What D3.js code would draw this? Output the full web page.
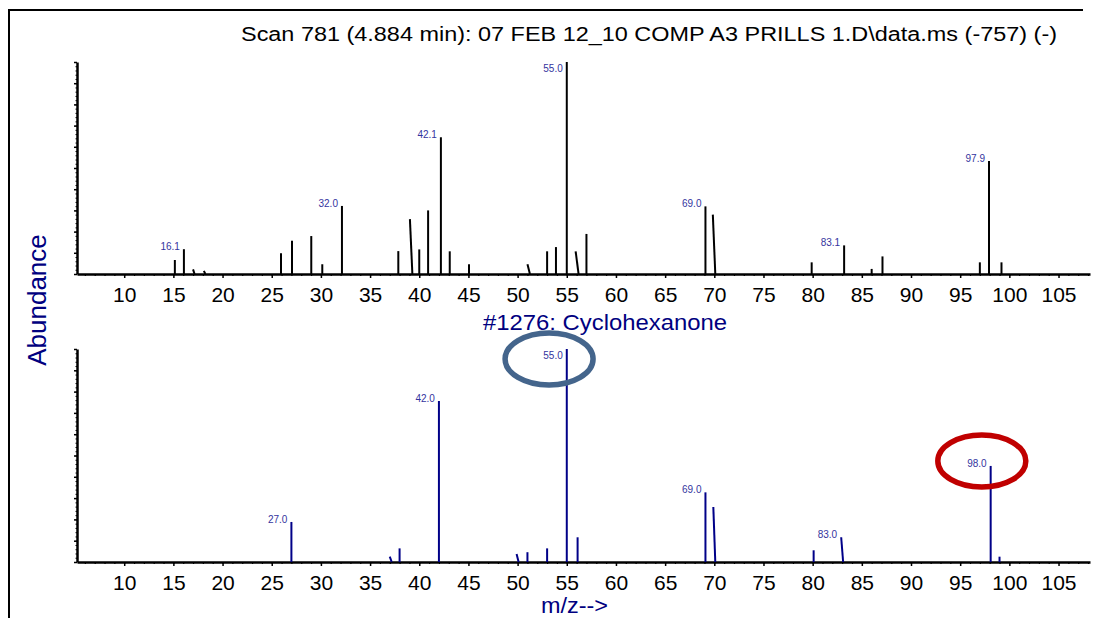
<!DOCTYPE html>
<html>
<head>
<meta charset="utf-8">
<script src="https://cdn.jsdelivr.net/npm/d3@7"></script>
<style>
  html, body { margin: 0; padding: 0; background: #fff; }
  svg { display: block; font-family: "Liberation Sans", Arial, sans-serif; }
</style>
</head>
<body>
<svg id="chart" width="1093" height="618"></svg>
<script>
// ---------- data ----------
const titleText = "Scan 781 (4.884 min): 07 FEB 12_10 COMP A3  PRILLS 1.D\\data.ms (-757) (-)";
const libraryTitle = "#1276: Cyclohexanone";
const xLabel = "m/z-->";
const yLabel = "Abundance";
const xTickValues = [10, 15, 20, 25, 30, 35, 40, 45, 50, 55, 60, 65, 70, 75, 80, 85, 90, 95, 100, 105];

// Scan spectrum (top) – m/z at peak top, m/z at base, relative abundance, label
const scanMz     = [15.15, 16.07, 17.0, 18.1, 25.94, 27.06, 29.02, 30.14, 32.14, 37.87, 39.05, 40.0, 40.9, 42.2, 43.1, 45.06, 51.0, 53.0, 53.9, 55.0, 55.9, 57.0, 69.1, 69.85, 79.9, 83.2, 86.0, 87.1, 97.0, 97.93, 99.2];
const scanBaseMz = [15.15, 16.07, 17.15, 18.25, 25.94, 27.06, 29.02, 30.14, 32.14, 37.87, 39.3, 40.0, 40.9, 42.2, 43.1, 45.06, 51.25, 53.0, 53.9, 55.0, 56.2, 57.0, 69.1, 70.1, 79.9, 83.2, 86.0, 87.1, 97.0, 97.93, 99.2];
const scanAbund  = [6.6, 11.7, 2.2, 1.5, 9.8, 15.7, 17.9, 4.6, 32.1, 10.8, 25.9, 11.6, 30.0, 64.5, 10.7, 4.6, 4.6, 10.7, 12.7, 100, 10.7, 18.9, 31.9, 28.0, 5.5, 13.5, 2.4, 8.3, 5.5, 53.3, 5.5];
const scanLabels = ["", "16.1", "", "", "", "", "", "", "32.0", "", "", "", "", "42.1", "", "", "", "", "", "55.0", "", "", "69.0", "", "", "83.1", "", "", "", "97.9", ""];

// Library spectrum (bottom)
const libMz     = [27.0, 37.0, 38.0, 42.0, 49.9, 51.0, 53.0, 55.0, 56.1, 69.1, 69.9, 80.1, 82.9, 98.1, 99.0];
const libBaseMz = [27.0, 37.2, 38.0, 42.0, 50.1, 51.0, 53.0, 55.0, 56.1, 69.1, 70.1, 80.1, 83.1, 98.1, 99.0];
const libAbund  = [18.8, 2.5, 6.4, 75.6, 3.8, 4.6, 6.4, 100, 11.6, 32.7, 25.8, 5.5, 11.6, 45.1, 2.5];
const libLabels = ["27.0", "", "", "42.0", "", "", "", "55.0", "", "69.0", "", "", "83.0", "98.0", ""];

// Highlight ellipses (centre in m/z, abundance of the library panel)
const highlightMz    = [53.2, 97.2];
const highlightAbund = [95.3, 47.4];
const highlightColor = ["#44658c", "#c00000"];

// ---------- layout ----------
const svg = d3.select("#chart");
const x = d3.scaleLinear().domain([5.2, 108.2]).range([77, 1090]);
const yTop = d3.scaleLinear().domain([0, 100]).range([274, 62]);
const yBot = d3.scaleLinear().domain([0, 100]).range([562, 349]);

// frame
svg.append("path").attr("d", "M9,618V10H1083").attr("fill", "none")
  .attr("stroke", "#000").attr("stroke-width", 2);

// title
svg.append("text").attr("x", 241).attr("y", 41)
  .attr("font-size", 20).attr("fill", "#000")
  .attr("textLength", 816).attr("lengthAdjust", "spacingAndGlyphs")
  .text(titleText);

function panel(yScale, mz, baseMz, ab, labels, color, baseline) {
  const g = svg.append("g");
  // x axis minor
  g.append("g").attr("transform", `translate(0,${baseline})`)
    .call(d3.axisBottom(x).tickValues(d3.range(6, 109)).tickSize(2).tickSizeOuter(0).tickFormat(""))
    .call(s => s.select(".domain").remove())
    .call(s => s.selectAll("line").attr("stroke", "#000").attr("stroke-width", 1.2));
  // x axis major
  g.append("g").attr("transform", `translate(0,${baseline})`)
    .call(d3.axisBottom(x).tickValues(xTickValues).tickSize(4).tickSizeOuter(0).tickPadding(9))
    .call(s => s.select(".domain").attr("stroke", "#000").attr("stroke-width", 2.5))
    .call(s => s.selectAll("line").attr("stroke", "#000").attr("stroke-width", 1.5))
    .call(s => s.selectAll("text").attr("font-size", 21).attr("fill", "#000")
      .attr("font-family", "Liberation Sans, Arial, sans-serif"));
  // y axis
  g.append("g").attr("transform", `translate(77,0)`)
    .call(d3.axisLeft(yScale).tickValues(d3.range(0, 101, 2)).tickSize(1.5).tickSizeOuter(0).tickFormat(""))
    .call(s => s.select(".domain").remove())
    .call(s => s.selectAll("line").attr("stroke", "#000"));
  g.append("g").attr("transform", `translate(77,0)`)
    .call(d3.axisLeft(yScale).tickValues(d3.range(0, 101, 10)).tickSize(3).tickSizeOuter(0).tickFormat(""))
    .call(s => s.select(".domain").attr("stroke", "#000").attr("stroke-width", 2.5))
    .call(s => s.selectAll("line").attr("stroke", "#000").attr("stroke-width", 1.5));
  // peaks
  const idx = d3.range(mz.length);
  g.append("g").selectAll("line").data(idx).join("line")
    .attr("x1", i => x(baseMz[i])).attr("y1", yScale(0))
    .attr("x2", i => x(mz[i])).attr("y2", i => yScale(ab[i]))
    .attr("stroke", color).attr("stroke-width", 2);
  // labels
  const top = yScale(100);
  g.append("g").selectAll("text").data(idx.filter(i => labels[i])).join("text")
    .attr("x", i => x(mz[i]) - 4)
    .attr("y", i => Math.max(yScale(ab[i]) + 1, top + 10))
    .attr("text-anchor", "end").attr("font-size", 10).attr("fill", "#34349e")
    .text(i => labels[i]);
}

panel(yTop, scanMz, scanBaseMz, scanAbund, scanLabels, "#000", 274);
panel(yBot, libMz, libBaseMz, libAbund, libLabels, "#000088", 562);

// library title and axis titles
svg.append("text").attr("x", 483).attr("y", 330).attr("font-size", 22).attr("fill", "#000080")
  .attr("textLength", 244).attr("lengthAdjust", "spacingAndGlyphs").text(libraryTitle);
svg.append("text").attr("x", 541).attr("y", 613).attr("font-size", 22).attr("fill", "#000080")
  .attr("textLength", 67).attr("lengthAdjust", "spacingAndGlyphs")
  .text(xLabel);
svg.append("text").attr("transform", "translate(46,300) rotate(-90)")
  .attr("text-anchor", "middle").attr("font-size", 26).attr("fill", "#000080")
  .text(yLabel);

// highlight ellipses
svg.append("g").selectAll("ellipse").data(d3.range(highlightMz.length)).join("ellipse")
  .attr("cx", i => x(highlightMz[i])).attr("cy", i => yBot(highlightAbund[i]))
  .attr("rx", 44).attr("ry", 26)
  .attr("fill", "none").attr("stroke", i => highlightColor[i]).attr("stroke-width", 5.5);
</script>
</body>
</html>
